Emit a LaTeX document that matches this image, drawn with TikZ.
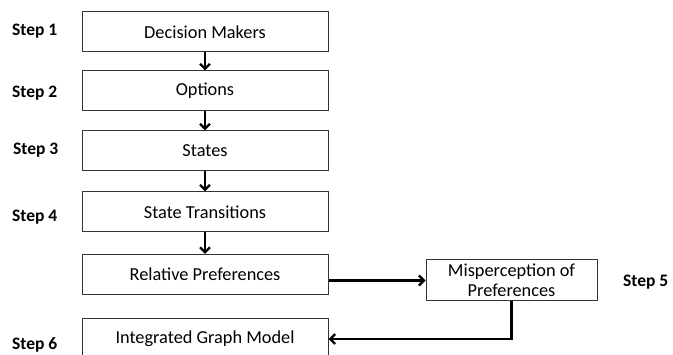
\documentclass[tikz,border=0pt]{standalone}
\usepackage{fontspec}
\setmainfont{Carlito}
\usetikzlibrary{arrows.meta}
\begin{document}
\begin{tikzpicture}[x=1pt,y=-1pt,
  box/.style={draw=black!80, line width=1pt, minimum width=246pt, minimum height=40pt, inner sep=0pt, font=\fontsize{18.3}{20}\selectfont},
  mbox/.style={draw=black!80, line width=1pt, minimum width=171pt, minimum height=41pt, inner sep=0pt, align=center, font=\fontsize{18.3}{20}\selectfont},
  steplbl/.style={anchor=west, inner sep=0pt, font=\bfseries\fontsize{17.5}{20}\selectfont},
  conn/.style={line width=2.4pt, -{Straight Barb[length=5pt,width=10pt,line width=2.4pt]}}]
\useasboundingbox (0,0) rectangle (673,355);
\node[box] (b1) at (205,32) {Decision Makers};
\node[box] (b2) at (205,91) {Options};
\node[box] (b3) at (205,151) {States};
\node[box] (b4) at (205,212) {State Transitions};
\node[box] (b5) at (205,274.5) {Relative Preferences};
\node[box] (b6) at (205,339) {Integrated Graph Model};
\node[mbox] (m) at (511.5,280.5) {Misperception of\\Preferences};
\node[steplbl] (s1) at (12,31) {Step 1};
\node[steplbl] (s2) at (12,93) {Step 2};
\node[steplbl] (s3) at (13,150) {Step 3};
\node[steplbl] (s4) at (12,217) {Step 4};
\node[steplbl] (s6) at (12,345) {Step 6};
\node[steplbl] (s5) at (623,282) {Step 5};
\draw[conn] (b1) -- (b2);
\draw[conn] (b2) -- (b3);
\draw[conn] (b3) -- (b4);
\draw[conn] (b4) -- (b5);
\draw[conn] (b5.east |- m.west) -- (m.west);
\draw[conn] (m.south) |- (b6.east);
\end{tikzpicture}
\end{document}
